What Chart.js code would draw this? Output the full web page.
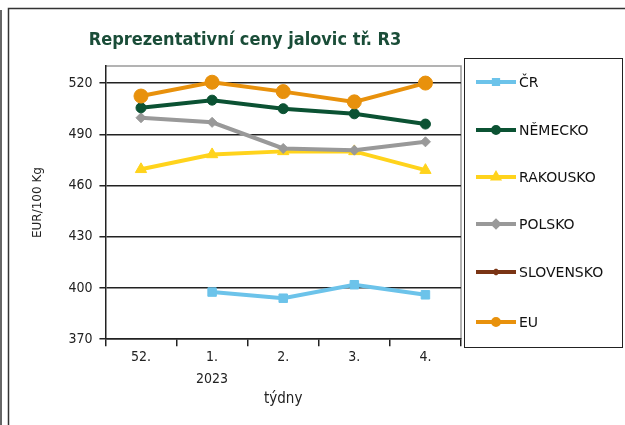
<!DOCTYPE html>
<html><head><meta charset="utf-8">
<script src="https://cdn.jsdelivr.net/npm/chart.js@4/dist/chart.umd.min.js"></script>
<style>html,body{margin:0;padding:0;background:#fff;}canvas{display:block;}</style>
</head><body>
<canvas id="c" width="625" height="425"></canvas>
<script>
const titleText = 'Reprezentativní ceny jalovic tř. R3';
const categories = [['52.'], ['1.', '2023'], ['2.'], ['3.'], ['4.']];
const yTicks = [370, 400, 430, 460, 490, 520];
const seriesNames = ['ČR', 'NĚMECKO', 'RAKOUSKO', 'POLSKO', 'SLOVENSKO', 'EU'];
const cr = [null, 397.6, 394, 401.9, 396];
const nemecko = [505.5, 510, 505, 502, 496];
const rakousko = [469.5, 478.2, 480, 480, 469];
const polsko = [499.7, 497, 481.7, 480.7, 485.6];
const slovensko = [null, null, null, null, null];
const eu = [512.4, 520.5, 515, 509, 520];

const colors = ['#6cc3ea', '#0b5233', '#ffd31c', '#999999', '#7a3414', '#e8910c'];
const styles = ['rect', 'circle', 'triangle', 'rectRot', 'crossRot', 'circle'];
const radii = [6, 5, 6.5, 5, 5, 7];
const values = [cr, nemecko, rakousko, polsko, slovensko, eu];
const FONT = '"DejaVu Sans Condensed", "Liberation Sans", sans-serif';

const datasets = seriesNames.map((n, i) => ({
  label: n, data: values[i], borderColor: colors[i], backgroundColor: colors[i],
  borderWidth: 4, pointStyle: styles[i], pointRadius: radii[i], pointHoverRadius: radii[i],
  pointBorderWidth: 1, spanGaps: false
}));
const order = [5, 0, 1, 3, 2, 4];
datasets.forEach((d, i) => { d.order = order.indexOf(i); });

const framePlugin = {
  id: 'frame',
  beforeDraw(chart) {
    const ctx = chart.ctx;
    ctx.save();
    ctx.fillStyle = '#fff';
    ctx.fillRect(0, 0, chart.width, chart.height);
    ctx.strokeStyle = '#666'; ctx.lineWidth = 2;
    ctx.beginPath(); ctx.moveTo(1, 10); ctx.lineTo(1, 425); ctx.stroke();
    ctx.strokeStyle = '#333'; ctx.lineWidth = 1.5;
    ctx.beginPath(); ctx.moveTo(8.5, 425); ctx.lineTo(8.5, 8.5); ctx.lineTo(625, 8.5); ctx.stroke();
    const a = chart.chartArea;
    ctx.strokeStyle = '#9a9a9a'; ctx.lineWidth = 1.5;
    ctx.beginPath(); ctx.moveTo(a.left, a.top); ctx.lineTo(a.right, a.top); ctx.lineTo(a.right, a.bottom); ctx.stroke();
    ctx.restore();
  },
  afterDraw(chart) {
    const ctx = chart.ctx;
    ctx.save();
    ctx.fillStyle = '#1a4d38';
    ctx.font = 'bold 18px ' + FONT;
    ctx.textAlign = 'center'; ctx.textBaseline = 'middle';
    ctx.fillText(titleText, 245, 40);
    ctx.strokeStyle = '#222'; ctx.lineWidth = 1;
    ctx.strokeRect(464.5, 58.5, 158, 289);
    const ys = [82, 130, 177, 224, 272, 322];
    chart.data.datasets.forEach((ds, i) => {
      const y = ys[i];
      ctx.strokeStyle = ds.borderColor; ctx.lineWidth = 4;
      ctx.beginPath(); ctx.moveTo(476, y); ctx.lineTo(516, y); ctx.stroke();
      ctx.fillStyle = ds.borderColor;
      Chart.helpers.drawPoint(ctx, {pointStyle: ds.pointStyle, radius: 3, borderWidth: 1}, 496, y);
      ctx.fillStyle = '#111';
      ctx.font = '14px "DejaVu Sans", "Liberation Sans", sans-serif';
      ctx.textAlign = 'left';
      ctx.fillText(ds.label, 519, y + 1);
    });
    ctx.restore();
  }
};

new Chart(document.getElementById('c'), {
  type: 'line',
  data: { labels: categories, datasets },
  plugins: [framePlugin],
  options: {
    responsive: false, animation: false, devicePixelRatio: 1,
    layout: { padding: { left: 31, right: 164, top: 66, bottom: 18 } },
    plugins: { legend: { display: false }, title: { display: false }, tooltip: { enabled: false } },
    scales: {
      x: {
        offset: true,
        grid: { offset: true, drawOnChartArea: false, drawTicks: true, tickLength: 7, color: '#222', lineWidth: 1.5 },
        border: { color: '#222', width: 1.5 },
        ticks: { color: '#222', font: { size: 14, family: FONT, lineHeight: 1.6 }, padding: 0, maxRotation: 0 },
        title: { display: true, text: 'týdny', color: '#222', font: { size: 15, family: FONT, lineHeight: 1 }, padding: { top: 1, bottom: 0 } }
      },
      y: {
        min: 370, max: 530,
        afterBuildTicks(s) { s.ticks = yTicks.map(v => ({ value: v })); },
        grid: { color: '#222', lineWidth: 1.5, tickLength: 6 },
        border: { color: '#222', width: 1.5 },
        ticks: { color: '#222', padding: 7, font: { size: 14, family: FONT } },
        title: { display: true, text: 'EUR/100 Kg', color: '#222', font: { size: 12, family: '"DejaVu Sans", sans-serif' }, padding: { top: 0, bottom: 16 } }
      }
    }
  }
});
</script>
</body></html>
